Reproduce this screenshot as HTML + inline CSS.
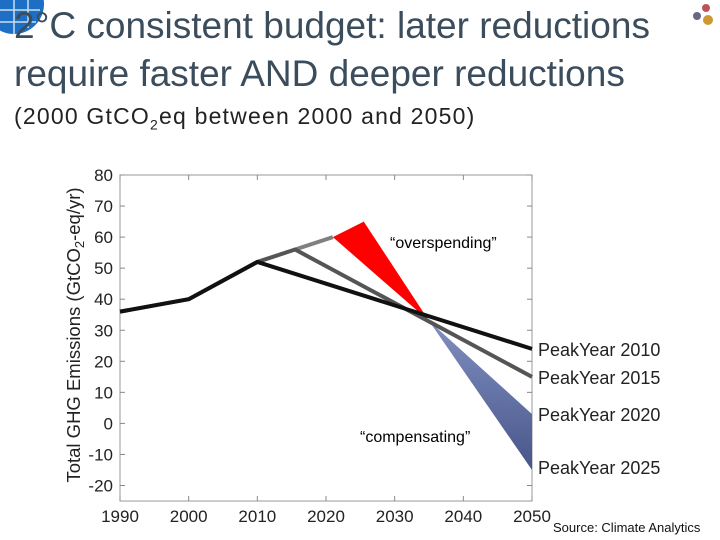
<!DOCTYPE html>
<html><head><meta charset="utf-8"><style>
body{margin:0;width:720px;height:540px;background:#fff;overflow:hidden;font-family:"Liberation Sans",sans-serif;position:relative}
.t{position:absolute;left:14px;color:#3b4d5c;font-family:"Liberation Sans Narrow","Liberation Sans",sans-serif;white-space:nowrap}
</style></head><body>
<svg width="60" height="40" style="position:absolute;left:0;top:0"><circle cx="14" cy="4" r="30" fill="#1c6fc4"/><path d="M0 10 H40 M0 22 H36 M14 0 V34 M28 0 V28" stroke="#cde" stroke-width="1.5"/></svg>
<svg width="30" height="30" style="position:absolute;left:688px;top:2px"><circle cx="18" cy="6" r="4" fill="#b55"/><circle cx="9" cy="14" r="4" fill="#668"/><circle cx="20" cy="18" r="5" fill="#c93"/></svg>
<div class="t" style="top:5px;font-size:37px">2°C consistent budget: later reductions</div>
<div class="t" style="top:53px;font-size:37px">require faster AND deeper reductions</div>
<div class="t" style="top:103px;font-size:23px;letter-spacing:1.2px;color:#222">(2000 GtCO<sub style="font-size:14px">2</sub>eq between 2000 and 2050)</div>
<svg id="c" width="720" height="540" style="position:absolute;left:0;top:0"></svg>
<div style="position:absolute;left:553px;top:520px;font-size:13px;color:#111">Source: Climate Analytics</div>
<script>
const yTicks=[80,70,60,50,40,30,20,10,0,-10,-20];
const xTicks=[1990,2000,2010,2020,2030,2040,2050];
const histYears=[1990,2000,2010];
const histVals=[36,40,52];
const peakNames=["PeakYear 2010","PeakYear 2015","PeakYear 2020","PeakYear 2025"];
const peakYears=[2010,2015.5,2021,2025.5];
const peakVals=[52,56,60,65];
const endVals=[24,15,3,-15];
const crossYear=2035, crossVal=33;
const X=v=>120+(v-1990)*(412/60);
const Y=v=>485.5-(v+20)*3.105;
const s=document.getElementById('c');const NS='http://www.w3.org/2000/svg';
function mk(t,a,p){const e=document.createElementNS(NS,t);for(const k in a)e.setAttribute(k,a[k]);(p||s).appendChild(e);return e;}
const defs=mk('defs',{});const g=mk('linearGradient',{id:'bg',x1:0,y1:0,x2:0,y2:1},defs);
mk('stop',{offset:0,'stop-color':'#8090c0'},g);mk('stop',{offset:1,'stop-color':'#48558a'},g);
const box=mk('rect',{x:120,y:Y(80),width:412,height:Y(-25)-Y(80),fill:'none',stroke:'#999','stroke-width':1});

yTicks.forEach(v=>{const l=mk('line',{x1:120,x2:125,y1:Y(v),y2:Y(v),stroke:'#888'});
mk('line',{x1:527,x2:532,y1:Y(v),y2:Y(v),stroke:'#888'});
const t=mk('text',{x:113,y:Y(v)+6,'text-anchor':'end','font-size':17,fill:'#222'});t.textContent=v;});
xTicks.forEach(v=>{mk('line',{x1:X(v),x2:X(v),y1:Y(-25),y2:Y(-25)-5,stroke:'#888'});mk('line',{x1:X(v),x2:X(v),y1:Y(80),y2:Y(80)+5,stroke:'#888'});
const t=mk('text',{x:X(v),y:522,'text-anchor':'middle','font-size':17,fill:'#222'});t.textContent=v;});
const yt=mk('text',{transform:'translate(80,335) rotate(-90)','text-anchor':'middle','font-size':18.5,fill:'#222'});yt.innerHTML='Total GHG Emissions (GtCO<tspan font-size="13" dy="4">2</tspan><tspan dy="-4">-eq/yr)</tspan>';

const red=mk('polygon',{points:[[X(peakYears[2]),Y(peakVals[2])],[X(peakYears[3]),Y(peakVals[3])],[X(crossYear),Y(crossVal)]].join(' '),fill:'#f00'});

const blue=mk('polygon',{points:[[X(crossYear),Y(crossVal)],[X(2050),Y(endVals[2])],[X(2050),Y(endVals[3])]].join(' '),fill:'url(#bg)'});

const cols=['#111','#555','#808080','#999'];
for(let i=3;i>=0;i--){
if(i<3){let pts=histYears.map((y,j)=>[X(y),Y(histVals[j])]);
for(let k=1;k<=i;k++)pts.push([X(peakYears[k]),Y(peakVals[k])]);pts.push([X(2050),Y(endVals[i])]);
if(i==2){pts=[[X(peakYears[1]),Y(peakVals[1])],[X(peakYears[2]),Y(peakVals[2])]];}
const p=mk('polyline',{points:pts.join(' '),fill:'none',stroke:cols[i],'stroke-width':4,'stroke-linejoin':'round'});
}
const t=mk('text',{x:538,y:Y(endVals[i])+7+(i==3?-3:0),'font-size':18,fill:'#222'});t.textContent=peakNames[i];}
const o=mk('text',{x:390,y:248,'font-size':16,fill:'#000'});o.textContent='“overspending”';
const c=mk('text',{x:360,y:442,'font-size':16,fill:'#000'});c.textContent='“compensating”';
</script>
</body></html>
